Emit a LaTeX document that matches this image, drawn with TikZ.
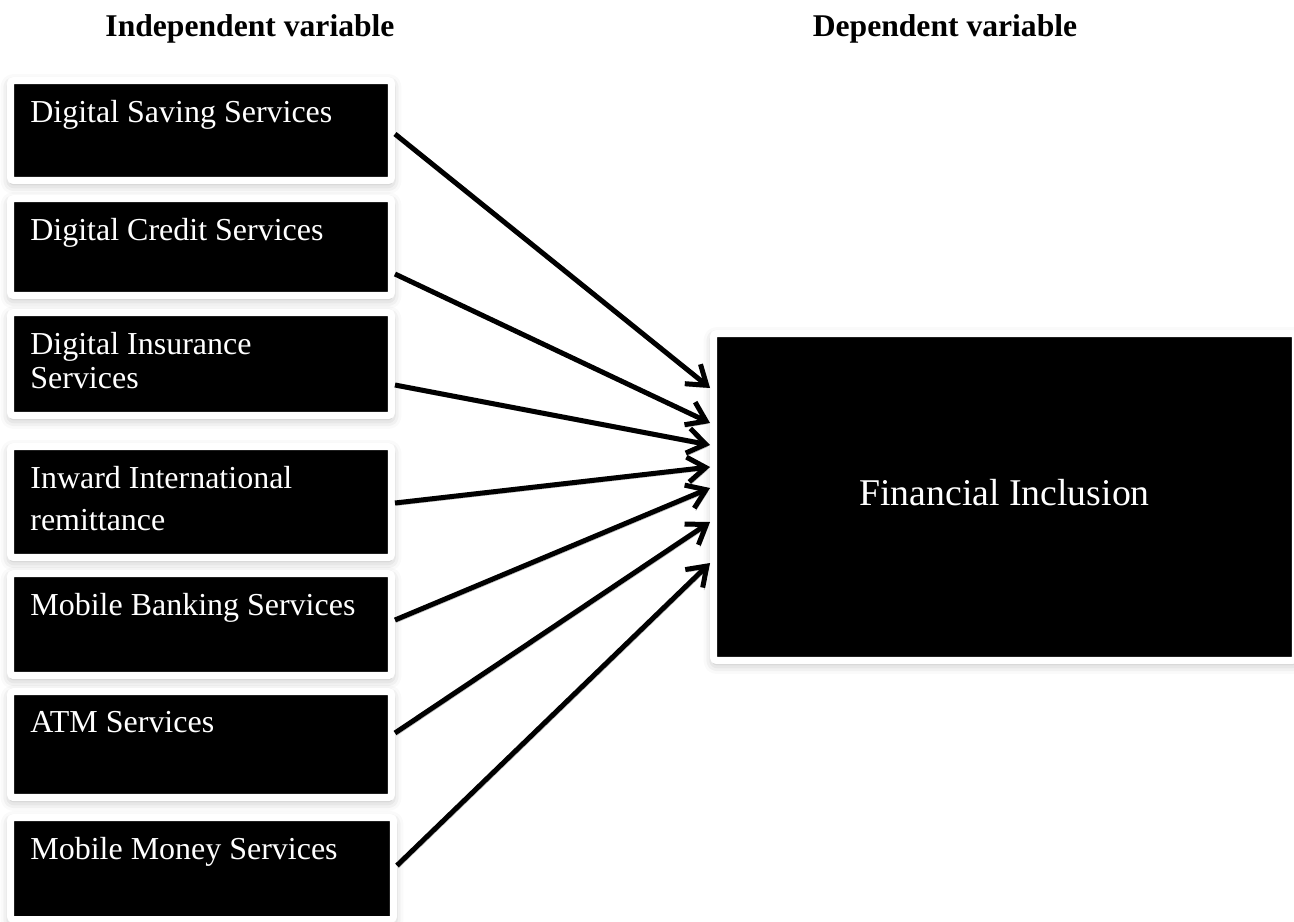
\documentclass[tikz,border=0pt]{standalone}
\usepackage{fontspec}
\setmainfont{Liberation Serif}
\usetikzlibrary{arrows.meta,calc,shadows.blur}

\begin{document}
\begin{tikzpicture}[x=0.02cm,y=-0.02cm,>={Straight Barb[length=0.36cm,width=0.5cm]},
                    var node/.style={rectangle,fill=black,draw=white,line width=0.14cm,
                      rounded corners=0.06cm,minimum width=7.62cm,inner sep=0pt,
                      blur shadow={shadow xshift=0cm,shadow yshift=-0.07cm,
                        shadow blur radius=0.2cm,shadow opacity=30}},
                    var text/.style={anchor=north west,text=white,inner sep=0pt,align=left,
                      font=\fontsize{18.2}{19.4}\selectfont,xshift=0.46cm,yshift=-0.45cm},
                    head/.style={anchor=base,font=\bfseries\fontsize{18}{20}\selectfont},
                    link/.style={line width=0.1cm,line join=round,
                      preaction={draw=black!25,transform canvas={xshift=0.03cm,yshift=-0.05cm}}}]

  \useasboundingbox (0,0) rectangle (1294,922);

  \node[head] (iv) at (250,37) {Independent variable};
  \node[head] (dv) at (945,37) {Dependent variable};

  \node[var node,minimum height=2.00cm,label={[var text]north west:Digital Saving Services}] (1) at (201,130.5) {};
  \node[var node,minimum height=1.94cm,label={[var text]north west:Digital Credit Services}] (2) at (201,247) {};
  \node[var node,minimum height=2.06cm,label={[var text]north west:{Digital Insurance\\Services}}] (3) at (201,364) {};
  \node[var node,minimum height=2.22cm,label={[var text]north west:{Inward International\\[5pt]remittance}}] (4) at (201,502) {};
  \node[var node,minimum height=2.04cm,label={[var text]north west:Mobile Banking Services}] (5) at (201,624.5) {};
  \node[var node,minimum height=2.12cm,label={[var text]north west:ATM Services}] (6) at (201,744.5) {};
  \node[var node,minimum height=2.04cm,minimum width=7.66cm,label={[var text]north west:Mobile Money Services}] (7) at (202,868.5) {};

  \node[var node,minimum width=11.64cm,minimum height=6.54cm,
        label={[anchor=base,text=white,font=\fontsize{21.5}{24}\selectfont,yshift=0.08cm]center:Financial Inclusion}] (8) at (1004.5,497) {};

  \path[->,every edge/.append style={link}]
    ($(1.east)+(0,3.5)$) edge ($(8.west)+(0,-109)$)
    ($(2.east)+(0,27)$)  edge ($(8.west)+(0,-74)$)
    ($(3.east)+(0,21)$)  edge ($(8.west)+(0,-52)$)
    ($(4.east)+(0,1)$)   edge ($(8.west)+(0,-30)$)
    ($(5.east)+(0,-4.5)$) edge ($(8.west)+(0,-9)$)
    ($(6.east)+(0,-11.5)$) edge ($(8.west)+(0,25)$)
    ($(7.east)+(0,-3)$)  edge ($(8.west)+(0,66)$)
    ;
\end{tikzpicture}
\end{document}
